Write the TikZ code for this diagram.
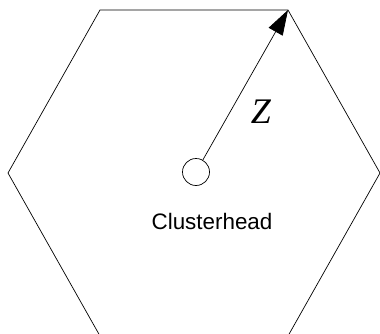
\documentclass[tikz,border=0pt]{standalone}
\usepackage{fontspec}
\setmainfont{Liberation Serif}
\setsansfont{Liberation Sans}
\usetikzlibrary{arrows.meta}
\begin{document}
\begin{tikzpicture}[x=1pt,y=1pt,line width=0.7pt]
      \useasboundingbox (0,0) rectangle (380,333);
      \clip (0,0) rectangle (380,333);
      % hexagonal cell
      \draw (8,160) -- (100,323) -- (288,323) -- (380,160) -- (288,-3) -- (100,-3) -- cycle;
      \coordinate (corner) at (288,323);
      \node[draw,circle,minimum size=27pt,inner sep=0pt] (head) at (196,161) {};
      \draw[-{Triangle[length=25pt,width=16pt]}] (head) -- (corner);
      \node[anchor=base] (radius) at (261,210) {\fontsize{36}{36}\selectfont\itshape Z};
      \node[anchor=base] (name) at (212,104) {\sffamily\fontsize{22.4}{24}\selectfont Clusterhead};
    \end{tikzpicture}
\end{document}
